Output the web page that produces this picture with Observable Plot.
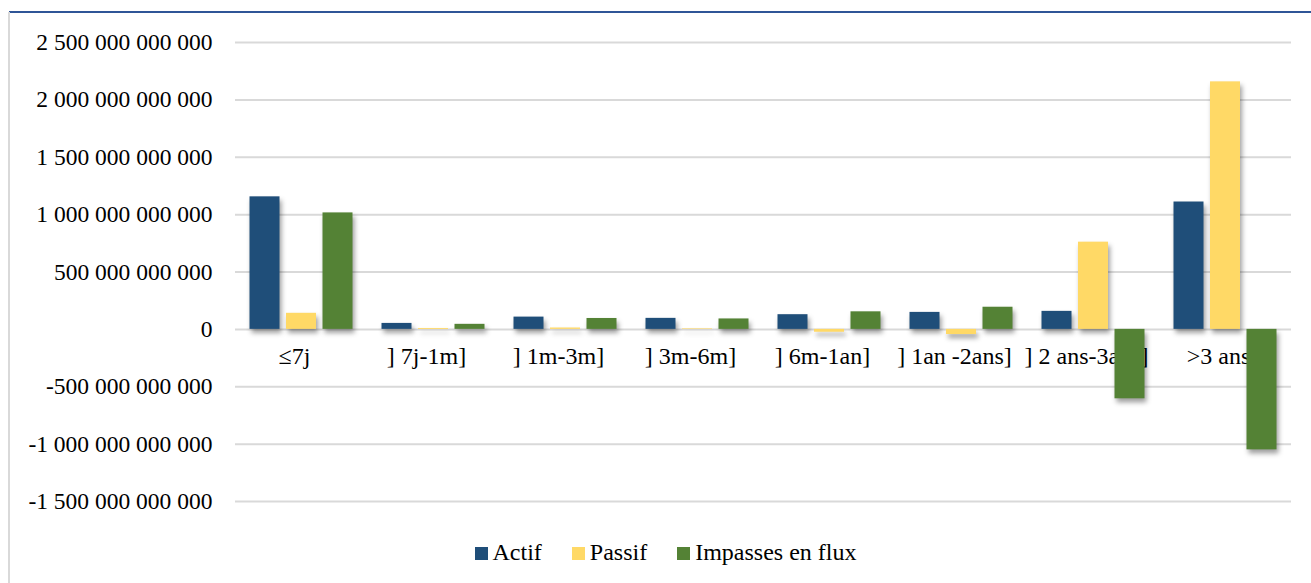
<!DOCTYPE html>
<html>
<head>
<meta charset="utf-8">
<script src="https://cdn.jsdelivr.net/npm/d3@7"></script>
<script src="https://cdn.jsdelivr.net/npm/@observablehq/plot@0.6"></script>
<style>
  html, body { margin: 0; padding: 0; background: #fff; }
  body { width: 1311px; height: 583px; position: relative; overflow: hidden; font-family: 'Liberation Serif', serif; }
  #topline { position: absolute; left: 9px; top: 11px; width: 1302px; height: 0; border-top: 2px solid #2F5597; }
  #leftline { position: absolute; left: 8px; top: 12px; width: 0; height: 571px; border-left: 2px solid #d9d9d9; }
  #chart { position: absolute; left: 0; top: 0; }
  #legend { position: absolute; top: 536px; left: 0; width: 1311px; height: 32px; font-family: 'Liberation Serif', serif; font-size: 24px; color: #000; display: flex; justify-content: center; gap: 30px; padding-left: 20px; box-sizing: border-box; }
  .item { line-height: 32px; white-space: nowrap; font-family: 'Liberation Serif', serif; }
  .sw { display: inline-block; width: 13px; height: 13px; margin-right: 5px; vertical-align: 0px; }
  .bars { filter: drop-shadow(2px 4px 2.5px rgba(0,0,0,0.38)); }
  svg text { font-family: 'Liberation Serif', serif; }
</style>
</head>
<body>
<div id="topline"></div>
<div id="leftline"></div>
<div id="chart"></div>
<div id="legend"></div>
<script>
const categories = ["≤7j", "] 7j-1m]", "] 1m-3m]", "] 3m-6m]", "] 6m-1an]", "] 1an -2ans]", "] 2 ans-3ans]", ">3 ans"];
const seriesNames = ["Actif", "Passif", "Impasses en flux"];
const actif    = [1155e9,  52e9, 107e9,  96e9, 128e9, 148e9, 157e9, 1110e9];
const passif   = [ 140e9,   8e9,  12e9,   5e9, -25e9, -45e9, 760e9, 2157e9];
const impasses = [1015e9,  44e9,  95e9,  91e9, 153e9, 193e9, -605e9, -1050e9];
const yTicks = [-1.5e12, -1e12, -0.5e12, 0, 0.5e12, 1e12, 1.5e12, 2e12, 2.5e12];
const colors = ["#1F4E79", "#FFD966", "#548235"];

const seriesValues = [actif, passif, impasses];
const fmt = d3.formatLocale({decimal: ",", thousands: " ", grouping: [3], currency: ["", ""], minus: "-"}).format(",.0f");

const barStep = 36.5, barWidth = 30, catStep = 132;
const barMarks = seriesNames.map((s, j) =>
  Plot.barY(categories.map((c, i) => ({cat: c, series: s, value: seriesValues[j][i]})), {
    x: "cat", y: "value", fill: "series",
    dx: (j - 1) * barStep,
    insetLeft: (catStep - barWidth) / 2, insetRight: (catStep - barWidth) / 2,
    className: "bars"
  })
);

const plot = Plot.plot({
  width: 1311,
  height: 540,
  marginLeft: 235,
  marginRight: 20,
  marginTop: 42,
  marginBottom: 39,
  style: {fontFamily: "'Liberation Serif', serif", fontSize: "23.5px", color: "#000", background: "transparent", overflow: "visible"},
  x: {domain: categories, padding: 0, axis: null},
  y: {domain: [-1.5e12, 2.5e12], axis: null},
  color: {domain: seriesNames, range: colors},
  marks: [
    Plot.ruleY(yTicks, {stroke: "#d9d9d9", strokeWidth: 2}),
    Plot.axisY({ticks: yTicks, tickSize: 0, tickPadding: 23, tickFormat: fmt, fontSize: 23.5, label: null}),
    Plot.text(categories, {x: d => d, y: () => 0, text: d => d, dy: 27, dx: -7, fill: "#000", fontSize: 24}),
    ...barMarks
  ]
});
plot.style.fontFamily = "'Liberation Serif', serif";
document.getElementById("chart").appendChild(plot);

const legend = document.getElementById("legend");
seriesNames.forEach((s, j) => {
  const item = document.createElement("span");
  item.className = "item";
  const sw = document.createElement("span");
  sw.className = "sw";
  sw.style.background = colors[j];
  item.appendChild(sw);
  item.appendChild(document.createTextNode(s));
  legend.appendChild(item);
});
</script>
</body>
</html>
